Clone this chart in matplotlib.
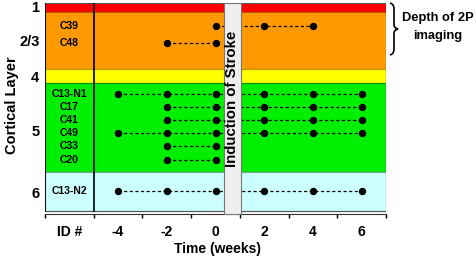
import matplotlib.pyplot as plt
from matplotlib.patches import Rectangle, PathPatch
from matplotlib.path import Path

plt.rcParams['font.family'] = ['Liberation Sans', 'DejaVu Sans']
plt.rcParams['font.weight'] = 'bold'

# cortical layers (top -> bottom)
layer_names = ["1", "2/3", "4", "5", "6"]
layer_colors = ["#ff0000", "#ff9900", "#ffff00", "#00ee00", "#ccffff"]
layer_edges = ["#aa0000", "#b06000", "#b0a000", "#009000", "#80a0a0"]
layer_bounds = [0, 9, 66, 80, 169, 208]
layer_label_y = [4, 37, 73, 127, 189]

# imaging sessions (weeks relative to stroke)
ids = ["C39", "C48", "C13-N1", "C17", "C41", "C49", "C33", "C20", "C13-N2"]
row_y = [23, 40, 91, 104, 117, 130, 143, 157, 188]
sessions = [
    [0, 2, 4],
    [-2, 0],
    [-4, -2, 0, 2, 4, 6],
    [-2, 0, 2, 4, 6],
    [-2, 0, 2, 4, 6],
    [-4, -2, 0, 2, 4, 6],
    [-2, 0],
    [-2, 0],
    [-4, -2, 0, 2, 4, 6],
]
week_labels = [-4, -2, 0, 2, 4, 6]

fig = plt.figure(figsize=(4.76, 2.59), dpi=100)
ax = fig.add_axes([45 / 476, 1 - 214 / 259, (386 - 45) / 476, 211 / 259])
ax.set_xlim(-7, 7)
ax.set_ylim(211, 0)

for i in range(len(layer_names)):
    ax.add_patch(Rectangle((-7, layer_bounds[i]), 14, layer_bounds[i + 1] - layer_bounds[i],
                           facecolor=layer_colors[i], edgecolor=layer_edges[i], lw=0.8, zorder=1))

# box around ID column and whole field
ax.add_patch(Rectangle((-7, 0), 14, 208, fill=False, edgecolor="#555555", lw=0.8, zorder=2))
ax.plot([-7, -7], [0, 208], color="black", lw=1.2, zorder=3)
ax.plot([-5, -5], [0, 208], color="black", lw=1.2, zorder=3)

for name, y, wk in zip(ids, row_y, sessions):
    ax.plot(wk, [y] * len(wk), color="black", ls=(0, (2.5, 2)), lw=0.9, zorder=4)
    ax.plot(wk, [y] * len(wk), "o", color="black", ms=4.3, zorder=5)
    ax.text(-6, y, name, ha="center", va="center", fontsize=7.5, fontweight="bold", zorder=5)

# stroke bar
ax.add_patch(Rectangle((0.35, 0), 0.68, 211, facecolor="#eeeeee", edgecolor="#777777", lw=0.8,
                       zorder=6, clip_on=False))
ax.text(0.69, 96, "Induction of Stroke", rotation=90, ha="center", va="center",
        fontsize=10.8, fontweight="bold", zorder=7)

for s in ["left", "top", "right"]:
    ax.spines[s].set_visible(False)
ax.spines["bottom"].set_color("#333333")
ax.set_xticks([-7, -5, -3, -1, 1, 3, 5, 7])
ax.set_xticklabels([""] * 8)
ax.tick_params(axis="x", which="major", direction="out", length=3, width=1)
ax.set_xticks([-6] + week_labels, minor=True)
ax.set_xticklabels(["ID #"] + [str(w) for w in week_labels], minor=True,
                   fontsize=10, fontweight="bold")
ax.tick_params(axis="x", which="minor", length=0, pad=8)
ax.set_yticks(layer_label_y)
ax.set_yticklabels(layer_names, fontsize=10.5, fontweight="bold")
ax.tick_params(axis="y", length=0, pad=4)

fig.text(218 / 476, 1 - 249 / 259, "Time (weeks)", ha="center", va="center",
         fontsize=10, fontweight="bold")
fig.text(12 / 476, 1 - 105 / 259, "Cortical Layer", ha="center", va="center", rotation=90,
         fontsize=10.5, fontweight="bold")

# brace for imaging depth
def px(x, y):
    return (x / 476, 1 - y / 259)

verts = [px(390, 3), px(394, 4), px(394, 9), px(394, 25), px(394, 28), px(398, 29),
         px(394, 30), px(394, 33), px(394, 49), px(394, 54), px(390, 55)]
codes = [Path.MOVETO, Path.CURVE3, Path.CURVE3, Path.LINETO, Path.CURVE3, Path.CURVE3,
         Path.CURVE3, Path.CURVE3, Path.LINETO, Path.CURVE3, Path.CURVE3]
fig.add_artist(PathPatch(Path(verts, codes), transform=fig.transFigure, fill=False,
                         edgecolor="black", lw=1.2))
fig.text(438 / 476, 1 - 18 / 259, "Depth of 2P", ha="center", va="center",
         fontsize=9.3, fontweight="bold")
fig.text(438 / 476, 1 - 36 / 259, "imaging", ha="center", va="center",
         fontsize=9.3, fontweight="bold")

fig.savefig("out.png", dpi=100)
